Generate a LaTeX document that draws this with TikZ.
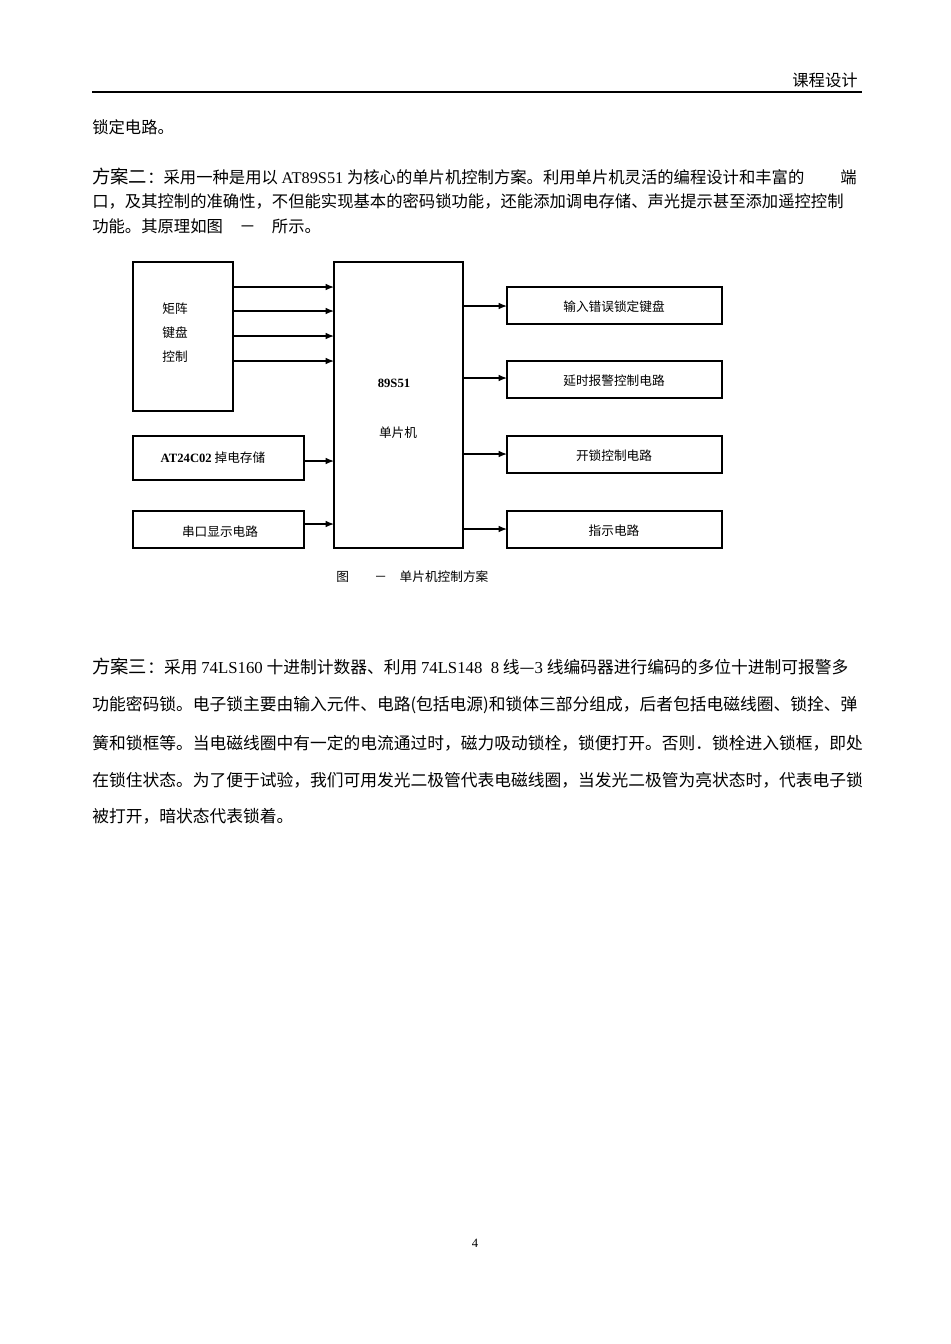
\documentclass[tikz,border=0pt]{standalone}
\usepackage{fontspec}
\setmainfont{Noto Sans CJK SC}
\newfontfamily\lat{Liberation Serif}
\usetikzlibrary{arrows.meta}
\begin{document}
\begin{tikzpicture}[x=0.6pt,y=-0.6pt,
  body/.style={anchor=west,inner sep=0pt,font=\fontsize{9.8}{10}\selectfont},
  bodyb/.style={anchor=west,inner sep=0pt,font=\fontsize{10.05}{10}\selectfont},
  box/.style={draw,line width=0.8pt},
  lbl/.style={inner sep=0pt,font=\fontsize{7.6}{9}\selectfont},
  arr/.style={-{Latex[length=5pt,width=4pt]},line width=0.8pt}]
\useasboundingbox[fill=white] (0,0) rectangle (950,1344);
% header
\node[body,anchor=east] (hdr) at (858,80) {课程设计};
\draw[line width=0.8pt] (92,92) -- (862,92);
\node[body] (l0) at (92,127) {锁定电路。};
% paragraph 2
\node[body] (p21) at (92,176) {{\fontsize{11}{11}\selectfont 方案二}：采用一种是用以 {\lat AT89S51} 为核心的单片机控制方案。利用单片机灵活的编程设计和丰富的\hspace{2.2em}端};
\node[body] (p22) at (92,201) {口，及其控制的准确性，不但能实现基本的密码锁功能，还能添加调电存储、声光提示甚至添加遥控控制};
\node[body] (p23) at (92,226) {功能。其原理如图\hspace{1em}－\hspace{1em}所示。};
% diagram
\draw[box] (133,262) rectangle (233,411);
\node[lbl] (k1) at (175,309) {矩阵};
\node[lbl] (k2) at (175,333) {键盘};
\node[lbl] (k3) at (175,357) {控制};
\draw[box] (133,436) rectangle (304,480);
\node[lbl] (at) at (213,458) {{\lat\bfseries AT24C02} 掉电存储};
\draw[box] (133,511) rectangle (304,548);
\node[lbl] (sk) at (220,532) {串口显示电路};
\draw[box] (334,262) rectangle (463,548);
\node[lbl] (m1) at (394,383) {\lat\bfseries 89S51};
\node[lbl] (m2) at (398,433) {单片机};
\foreach \y in {287,311,336,361} {\draw[arr] (233,\y) -- (334,\y);}
\draw[arr] (304,461) -- (334,461);
\draw[arr] (304,524) -- (334,524);
\foreach \ya/\yb/\t/\yc in {287/324/输入错误锁定键盘/306, 361/398/延时报警控制电路/378, 436/473/开锁控制电路/454, 511/548/指示电路/529} {
  \draw[box] (507,\ya) rectangle (722,\yb);
  \node[lbl] at (614,{(\ya+\yb)/2+1}) {\t};
  \draw[arr] (463,\yc) -- (507,\yc);
}
\node[lbl,anchor=west] (cap) at (336,577) {图\hspace{2em}－\hspace{1em}单片机控制方案};
% paragraph 3
\node[bodyb] (p31) at (92,666) {{\fontsize{11}{11}\selectfont 方案三}：采用 {\lat 74LS160} 十进制计数器、利用 {\lat 74LS148\ \ 8} 线—{\lat 3} 线编码器进行编码的多位十进制可报警多};
\node[bodyb] (p32) at (92,705) {功能密码锁。电子锁主要由输入元件、电路(包括电源)和锁体三部分组成，后者包括电磁线圈、锁拴、弹};
\node[bodyb] (p33) at (92,743) {簧和锁框等。当电磁线圈中有一定的电流通过时，磁力吸动锁栓，锁便打开。否则．锁栓进入锁框，即处};
\node[bodyb] (p34) at (92,780) {在锁住状态。为了便于试验，我们可用发光二极管代表电磁线圈，当发光二极管为亮状态时，代表电子锁};
\node[bodyb] (p35) at (92,816) {被打开，暗状态代表锁着。};
\node[lbl] (pg) at (475,1243) {\lat 4};
\end{tikzpicture}
\end{document}
